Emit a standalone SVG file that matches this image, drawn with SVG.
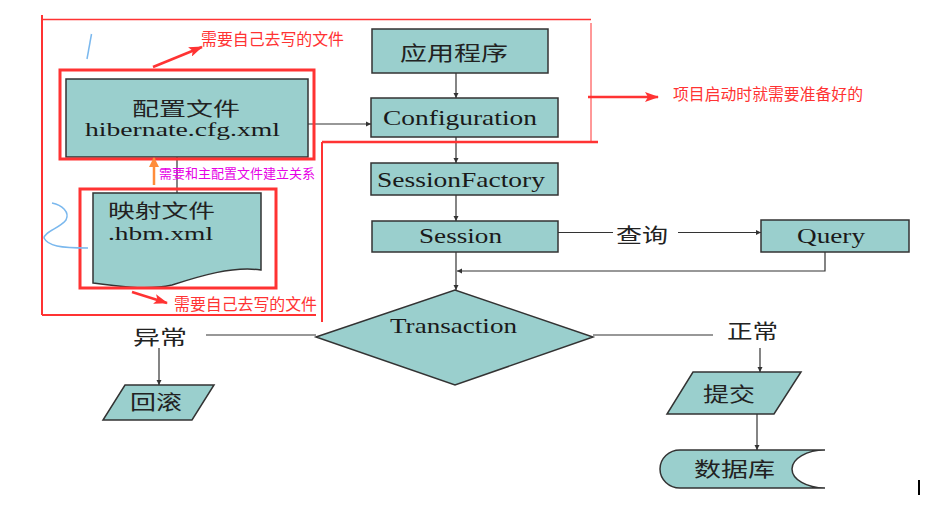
<svg xmlns="http://www.w3.org/2000/svg" width="937" height="528" viewBox="0 0 937 528">
<style>
.box{fill:#9ACFCD;stroke:#333;stroke-width:1.5}
.lbl{font-family:"Liberation Serif","Noto Sans CJK SC",serif;fill:#1a1a1a}
.cjk{font-family:"Liberation Serif","Noto Sans CJK SC",serif;fill:#222}
.ann{font-family:"Noto Sans CJK SC","Liberation Sans",sans-serif;fill:#FF3333}
.conn{stroke:#333;stroke-width:1.2;fill:none}
.red{stroke:#FF3333;fill:none}
.hl{stroke:#FF3333;stroke-width:3;fill:none}
</style>
<defs>
<marker id="ah" markerWidth="6" markerHeight="6" refX="5" refY="3" orient="auto" markerUnits="userSpaceOnUse">
<path d="M0,0.5 L5,3 L0,5.5 Z" fill="#333"/>
</marker>
<marker id="rah" markerWidth="14" markerHeight="10" refX="13" refY="5" orient="auto" markerUnits="userSpaceOnUse">
<path d="M0,0 L14,5 L0,10 L3,5 Z" fill="#FF3333"/>
</marker>
<marker id="oah" markerWidth="10" markerHeight="12" refX="9" refY="5" orient="auto" markerUnits="userSpaceOnUse">
<path d="M0,0 L10,5 L0,10 Z" fill="#FF8C3A"/>
</marker>
</defs>
<rect width="937" height="528" fill="#fff"/>

<g id="connectors">
<line class="conn" x1="308" y1="124" x2="371" y2="124" marker-end="url(#ah)"/>
<line class="conn" x1="177" y1="157" x2="177" y2="193"/>
<line class="conn" x1="456" y1="73" x2="456" y2="98" marker-end="url(#ah)"/>
<line class="conn" x1="456" y1="137" x2="456" y2="163" marker-end="url(#ah)"/>
<line class="conn" x1="456" y1="195" x2="456" y2="221" marker-end="url(#ah)"/>
<line class="conn" x1="558" y1="232.5" x2="613" y2="232.5"/>
<line class="conn" x1="678" y1="232.5" x2="761" y2="232.5" marker-end="url(#ah)"/>
<polyline class="conn" points="825,252 825,271 457,271" marker-end="url(#ah)"/>
<line class="conn" x1="456" y1="252" x2="456" y2="290" marker-end="url(#ah)"/>
<line class="conn" x1="316" y1="335" x2="206" y2="335"/>
<line class="conn" x1="159" y1="348" x2="159" y2="385" marker-end="url(#ah)"/>
<line class="conn" x1="593" y1="335" x2="713" y2="335"/>
<line class="conn" x1="760" y1="348" x2="760" y2="372" marker-end="url(#ah)"/>
<line class="conn" x1="757" y1="414" x2="757" y2="450" marker-end="url(#ah)"/>
<text class="cjk" x="616" y="243" font-size="20" textLength="52" lengthAdjust="spacingAndGlyphs">查询</text>
<text class="cjk" x="133" y="345" font-size="20" textLength="54" lengthAdjust="spacingAndGlyphs">异常</text>
<text class="cjk" x="727" y="339" font-size="20" textLength="51" lengthAdjust="spacingAndGlyphs">正常</text>
</g>

<g id="cfg">
<rect class="box" x="66" y="79" width="242" height="78"/>
<text class="cjk" x="132" y="116" font-size="19" textLength="108" lengthAdjust="spacingAndGlyphs">配置文件</text>
<text class="lbl" x="85" y="136" font-size="19" textLength="195" lengthAdjust="spacingAndGlyphs">hibernate.cfg.xml</text>
</g>

<g id="hbm">
<path class="box" d="M93,193 L261,193 L261,270 C232,266 200,276 172,285 C146,291 118,286 93,283 Z"/>
<text class="cjk" x="108" y="218" font-size="19" textLength="107" lengthAdjust="spacingAndGlyphs">映射文件</text>
<text class="lbl" x="108" y="240" font-size="19" textLength="105" lengthAdjust="spacingAndGlyphs">.hbm.xml</text>
</g>

<g id="app">
<rect class="box" x="372" y="29" width="176" height="44"/>
<text class="cjk" x="400" y="61" font-size="20" textLength="108" lengthAdjust="spacingAndGlyphs">应用程序</text>
</g>

<g id="configuration">
<rect class="box" x="371" y="98" width="187" height="39"/>
<text class="lbl" x="383" y="125" font-size="21" textLength="154" lengthAdjust="spacingAndGlyphs">Configuration</text>
</g>

<g id="sessionfactory">
<rect class="box" x="371" y="163" width="187" height="32"/>
<text class="lbl" x="377" y="187" font-size="21" textLength="168" lengthAdjust="spacingAndGlyphs">SessionFactory</text>
</g>

<g id="session">
<rect class="box" x="372" y="221" width="186" height="31"/>
<text class="lbl" x="419" y="242.5" font-size="21" textLength="83" lengthAdjust="spacingAndGlyphs">Session</text>
</g>

<g id="query">
<rect class="box" x="761" y="220" width="148" height="32"/>
<text class="lbl" x="797" y="243" font-size="21" textLength="68" lengthAdjust="spacingAndGlyphs">Query</text>
</g>

<g id="transaction">
<polygon class="box" points="316,337 455,290 593,337 455,385"/>
<text class="lbl" x="390" y="333" font-size="21" textLength="127" lengthAdjust="spacingAndGlyphs">Transaction</text>
</g>

<g id="rollback">
<polygon class="box" points="125,385 214,385 192,420 103,420"/>
<text class="cjk" x="130" y="410" font-size="20" textLength="52" lengthAdjust="spacingAndGlyphs">回滚</text>
</g>

<g id="commit">
<polygon class="box" points="693,372 801,372 774,414 667,414"/>
<text class="cjk" x="703" y="402" font-size="20" textLength="52" lengthAdjust="spacingAndGlyphs">提交</text>
</g>

<g id="database">
<path class="box" d="M680,450 L825,450 A33,19 0 0 0 825,488 L680,488 A20,19 0 0 1 680,450 Z"/>
<text class="cjk" x="694" y="477" font-size="20" textLength="81" lengthAdjust="spacingAndGlyphs">数据库</text>
</g>

<g id="annotations">
<line class="red" stroke-width="1.5" x1="42" y1="19.5" x2="591" y2="19.5"/>
<line class="red" stroke-width="1" x1="591" y1="23" x2="591" y2="141"/>
<line class="red" stroke-width="2.5" x1="322" y1="142" x2="598" y2="142"/>
<line class="red" stroke-width="2" x1="322" y1="142" x2="322" y2="322"/>
<line class="red" stroke-width="2" x1="42" y1="15" x2="42" y2="315"/>
<line class="red" stroke-width="2" x1="42" y1="315" x2="316" y2="315"/>
<rect class="hl" x="60" y="70" width="254" height="89"/>
<rect class="hl" x="80" y="189" width="196" height="99"/>
<line class="red" stroke-width="2.5" x1="153" y1="67" x2="202" y2="47" marker-end="url(#rah)"/>
<text class="ann" x="201" y="45" font-size="16" textLength="143" lengthAdjust="spacingAndGlyphs">需要自己去写的文件</text>
<line class="red" stroke-width="2.5" x1="132" y1="292" x2="167" y2="303" marker-end="url(#rah)"/>
<text class="ann" x="174" y="310" font-size="16" textLength="143" lengthAdjust="spacingAndGlyphs">需要自己去写的文件</text>
<line class="red" stroke-width="2.5" x1="588" y1="97" x2="658" y2="97" marker-end="url(#rah)"/>
<text class="ann" x="673" y="100" font-size="16" textLength="190" lengthAdjust="spacingAndGlyphs">项目启动时就需要准备好的</text>
<line stroke="#FF8C3A" stroke-width="2.5" x1="154" y1="185" x2="154" y2="158" marker-end="url(#oah)"/>
<text x="159" y="178" font-size="13" textLength="156" lengthAdjust="spacingAndGlyphs" font-family="Noto Sans CJK SC, Liberation Sans, sans-serif" fill="#E600E6">需要和主配置文件建立关系</text>
<path d="M91.5,34 L87,59" stroke="#7AB8EE" stroke-width="1.5" fill="none"/>
<path d="M52,203 C62,205 70,212 66,220 C60,228 44,232 44,238 C48,246 60,248 88,248" stroke="#7AB8EE" stroke-width="1.5" fill="none"/>
<line x1="919" y1="480" x2="919" y2="495" stroke="#000" stroke-width="2"/>
</g>
</svg>
